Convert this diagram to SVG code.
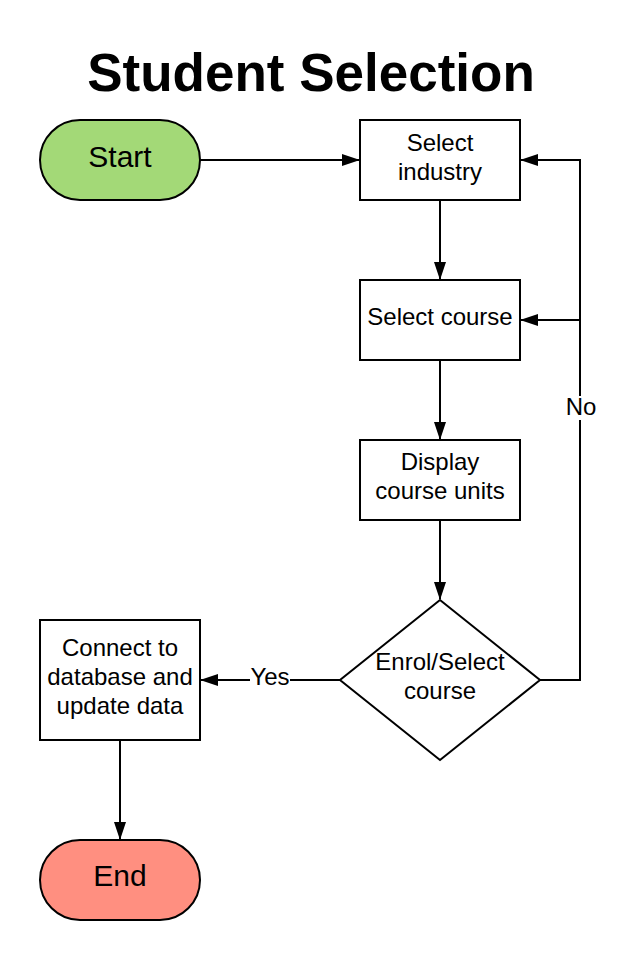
<svg xmlns="http://www.w3.org/2000/svg" width="637" height="960" viewBox="0 0 637 960">
<defs>
<marker id="arr" markerWidth="18" markerHeight="14" refX="17" refY="7" orient="auto" markerUnits="userSpaceOnUse">
<path d="M0,1 L18,7 L0,13 Z" fill="#000"/>
</marker>
<style>
text{font-family:"Liberation Sans",Arial,sans-serif;fill:#000;text-anchor:middle}
.n{font-size:24px}
.t{font-size:30px}
.box{fill:#fff;stroke:#000;stroke-width:2}
.c{fill:none;stroke:#000;stroke-width:2}
</style>
</defs>
<rect width="637" height="960" fill="#fff"/>
<text x="311" y="91" style="font-size:53px;font-weight:bold">Student Selection</text>
<g id="connectors">
<path class="c" d="M200,160 H359" marker-end="url(#arr)"/>
<path class="c" d="M440,200 V279" marker-end="url(#arr)"/>
<path class="c" d="M440,360 V439" marker-end="url(#arr)"/>
<path class="c" d="M440,520 V599" marker-end="url(#arr)"/>
<path class="c" d="M540,680 H580 V160 H521" marker-end="url(#arr)"/>
<path class="c" d="M580,320 H521" marker-end="url(#arr)"/>
<path class="c" d="M340,680 H201" marker-end="url(#arr)"/>
<path class="c" d="M120,740 V839" marker-end="url(#arr)"/>
<rect x="250" y="668" width="40" height="22" fill="#fff"/>
<text class="n" x="270" y="685">Yes</text>
<rect x="565" y="396" width="32" height="24" fill="#fff"/>
<text class="n" x="581" y="415">No</text>
</g>
<g id="start">
<rect x="40" y="120" width="160" height="80" rx="40" ry="40" fill="#a3d977" stroke="#000" stroke-width="2"/>
<text class="t" x="120" y="167">Start</text>
</g>
<g id="select-industry">
<rect class="box" x="360" y="120" width="160" height="80"/>
<text class="n" x="440" y="151">Select</text>
<text class="n" x="440" y="180">industry</text>
</g>
<g id="select-course">
<rect class="box" x="360" y="280" width="160" height="80"/>
<text class="n" x="440" y="325">Select course</text>
</g>
<g id="display-units">
<rect class="box" x="360" y="440" width="160" height="80"/>
<text class="n" x="440" y="470">Display</text>
<text class="n" x="440" y="499">course units</text>
</g>
<g id="enrol-decision">
<path class="box" d="M440,600 L540,680 L440,760 L340,680 Z"/>
<text class="n" x="440" y="670">Enrol/Select</text>
<text class="n" x="440" y="699">course</text>
</g>
<g id="connect-db">
<rect class="box" x="40" y="620" width="160" height="120"/>
<text class="n" x="120" y="656">Connect to</text>
<text class="n" x="120" y="685">database and</text>
<text class="n" x="120" y="714">update data</text>
</g>
<g id="end">
<rect x="40" y="840" width="160" height="80" rx="40" ry="40" fill="#ff8f80" stroke="#000" stroke-width="2"/>
<text class="t" x="120" y="886">End</text>
</g>
</svg>
